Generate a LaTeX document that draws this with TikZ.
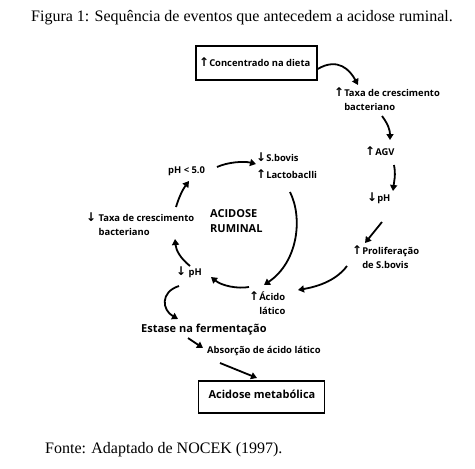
\documentclass[tikz,border=0pt]{standalone}
\usepackage{fontspec}
\setmainfont{Liberation Serif}
\newfontfamily\diag{Open Sans}
\newfontfamily\symf{DejaVu Sans}
\usetikzlibrary{arrows.meta}
\newcommand{\upa}{{\symf\bfseries\fontsize{12}{12}\selectfont ↑}}
\newcommand{\dna}{{\symf\bfseries\fontsize{12}{12}\selectfont ↓}}
\begin{document}
\begin{tikzpicture}[x=1pt,y=-1pt,
  lbl/.style={font=\diag\bfseries\fontsize{9.4}{13.5}\selectfont, inner sep=0pt, anchor=west, align=left},
  big/.style={font=\diag\bfseries\fontsize{11}{14.5}\selectfont, inner sep=0pt, anchor=west, align=left},
  capt/.style={font=\fontsize{16}{18}\selectfont, inner sep=0pt},
  boxed/.style={draw, line width=1.3pt, inner sep=0pt},
  arr/.style={line width=1.8pt, -{Triangle[length=6pt,width=7pt]}}]
\useasboundingbox (0,0) rectangle (475,469);

\node[capt] (title) at (242,18) {Figura 1: Sequência de eventos que antecedem a acidose ruminal.};
\node[capt, anchor=west] (fonte) at (45,450) {Fonte: Adaptado de NOCEK (1997).};

\node[boxed, minimum width=121pt, minimum height=34pt] (b1) at (256.5,63) {};
\node[lbl] (conc) at (199,62) {\upa Concentrado na dieta};
\node[lbl] (taxa1) at (334,99) {\upa Taxa de crescimento\\\phantom{\upa}bacteriano};
\node[lbl] (agv) at (365,151) {\upa AGV};
\node[lbl] (ph1) at (367,198) {\dna pH};
\node[lbl] (prol) at (352,257) {\upa Proliferação\\\phantom{\upa}de S.bovis};
\node[lbl] (acido) at (249,303) {\upa Ácido\\\phantom{\upa}lático};
\node[lbl] (ph2) at (176,272) {\dna\ pH};
\node[lbl] (taxa2) at (86,224) {\dna\ Taxa de crescimento\\\phantom{\dna\ }bacteriano};
\node[big] (rum) at (210,221) {ACIDOSE\\RUMINAL};
\node[lbl] (ph3) at (168,171) {pH < 5.0};
\node[lbl] (sbov) at (256,157) {\dna S.bovis};
\node[lbl] (lact) at (256,174) {\upa Lactobaclli};
\node[big] (est) at (141,330) {Estase na fermentação};
\node[lbl] (abs) at (207,351) {Absorção de ácido lático};
\node[boxed, minimum width=126pt, minimum height=32pt] (b2) at (261.5,397) {};
\node[big, anchor=center] (met) at (262,394) {Acidose metabólica};

% connectors
\coordinate (a1e) at (358,85);
\coordinate (a2s) at (382,116);
\coordinate (a2e) at (390,140);
\coordinate (a3s) at (394,165);
\coordinate (a3e) at (393,191);
\coordinate (a4s) at (382,222);
\coordinate (a4e) at (365,243);
\coordinate (a5s) at (347,266);
\coordinate (a5e) at (298,290);
\coordinate (a6s) at (290,192);
\coordinate (a6e) at (264,285);
\coordinate (a7s) at (249,287);
\coordinate (a7e) at (211,277);
\coordinate (a8s) at (190,266);
\coordinate (a8e) at (175,239);
\coordinate (a9s) at (176,207);
\coordinate (a9e) at (189,181);
\coordinate (a10s) at (217,167);
\coordinate (a10e) at (256,164);
\coordinate (a11s) at (179,286);
\coordinate (a11e) at (178,319);
\coordinate (a12s) at (188,338);
\coordinate (a12e) at (203,348);
\coordinate (a13s) at (220,363);
\coordinate (a13e) at (257,378);

\draw[arr] ([yshift=-6pt]b1.east) .. controls (338,57) and (350,70) .. (a1e);
\draw[arr] (a2s) .. controls (388,124) and (390,130) .. (a2e);
\draw[arr] (a3s) .. controls (396,175) and (394,182) .. (a3e);
\draw[arr] (a4s) -- (a4e);
\draw[arr] (a5s) .. controls (335,282) and (315,287) .. (a5e);
\draw[arr] (a6s) .. controls (303,218) and (298,262) .. (a6e);
\draw[arr] (a7s) .. controls (238,289) and (222,286) .. (a7e);
\draw[arr] (a8s) .. controls (180,258) and (176,250) .. (a8e);
\draw[arr] (a9s) .. controls (179,197) and (183,189) .. (a9e);
\draw[arr] (a10s) .. controls (228,162) and (244,161) .. (a10e);
\draw[arr] (a11s) .. controls (160,292) and (162,310) .. (a11e);
\draw[arr] (a12s) -- (a12e);
\draw[arr] (a13s) -- (a13e);
\end{tikzpicture}
\end{document}
